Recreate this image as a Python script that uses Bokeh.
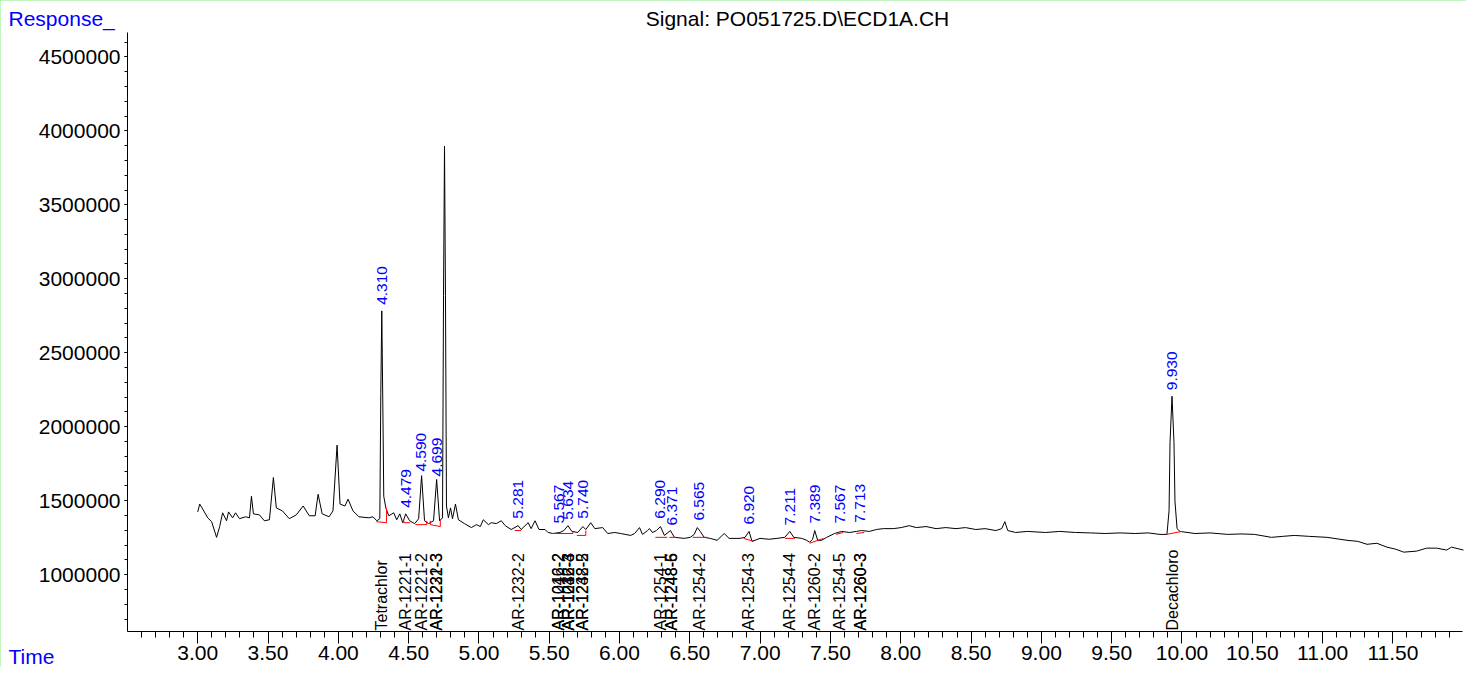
from math import pi
from bokeh.plotting import figure
from bokeh.models import Range1d, SingleIntervalTicker, NumeralTickFormatter, Label
from bokeh.core.properties import value
from bokeh.embed import file_html
from bokeh.resources import INLINE

# ---------------- data ----------------
time_min = [
    3.000, 3.014, 3.035, 3.071, 3.099, 3.134, 3.156, 3.177, 3.205, 3.219,
    3.248, 3.269, 3.297, 3.340, 3.368, 3.382, 3.396, 3.439, 3.474, 3.510,
    3.538, 3.559, 3.602, 3.651, 3.701, 3.750, 3.793, 3.835, 3.856, 3.885,
    3.934, 3.962, 3.991, 4.012, 4.047, 4.069, 4.104, 4.146, 4.217, 4.246,
    4.274, 4.295, 4.302, 4.309, 4.317, 4.323, 4.338, 4.359, 4.394, 4.415,
    4.437, 4.458, 4.479, 4.507, 4.543, 4.571, 4.592, 4.613, 4.642, 4.677,
    4.699, 4.720, 4.741, 4.748, 4.755, 4.762, 4.769, 4.783, 4.798, 4.812,
    4.833, 4.854, 4.897, 4.946, 4.982, 5.010, 5.031, 5.067, 5.088, 5.123,
    5.159, 5.187, 5.229, 5.279, 5.300, 5.350, 5.371, 5.399, 5.427, 5.470,
    5.491, 5.527, 5.576, 5.604, 5.633, 5.661, 5.703, 5.739, 5.760, 5.795,
    5.824, 5.880, 5.916, 5.965, 6.008, 6.079, 6.107, 6.142, 6.163, 6.199,
    6.213, 6.234, 6.262, 6.291, 6.319, 6.362, 6.390, 6.461, 6.503, 6.531,
    6.553, 6.574, 6.602, 6.645, 6.694, 6.744, 6.779, 6.857, 6.892, 6.921,
    6.942, 6.999, 7.062, 7.119, 7.175, 7.211, 7.239, 7.296, 7.331, 7.352,
    7.373, 7.388, 7.409, 7.437, 7.473, 7.529, 7.579, 7.635, 7.685, 7.720,
    7.777, 7.826, 7.876, 7.947, 8.003, 8.060, 8.110, 8.180, 8.251, 8.320,
    8.393, 8.460, 8.534, 8.600, 8.676, 8.718, 8.740, 8.761, 8.817, 8.900,
    9.030, 9.130, 9.242, 9.350, 9.454, 9.560, 9.667, 9.760, 9.843, 9.893,
    9.908, 9.915, 9.929, 9.943, 9.950, 9.965, 9.986, 10.092, 10.200, 10.325,
    10.420, 10.516, 10.636, 10.720, 10.799, 10.900, 11.032, 11.174, 11.250, 11.316,
    11.386, 11.457, 11.520, 11.577, 11.669, 11.740, 11.811, 11.882, 11.917, 12.002,
]
response = [
    1424000, 1477000, 1444000, 1384000, 1358000, 1252000, 1325000, 1418000, 1364000, 1424000,
    1384000, 1418000, 1378000, 1391000, 1384000, 1530000, 1411000, 1404000, 1364000, 1371000,
    1656000, 1451000, 1431000, 1378000, 1404000, 1464000, 1398000, 1398000, 1543000, 1411000,
    1391000, 1431000, 1875000, 1477000, 1464000, 1510000, 1431000, 1391000, 1384000, 1391000,
    1364000, 1378000, 2226000, 2783000, 2093000, 1530000, 1451000, 1398000, 1418000, 1371000,
    1411000, 1351000, 1411000, 1364000, 1345000, 1378000, 1669000, 1364000, 1345000, 1364000,
    1643000, 1364000, 1384000, 2889000, 3896000, 2889000, 1464000, 1384000, 1451000, 1378000,
    1477000, 1371000, 1345000, 1318000, 1338000, 1325000, 1371000, 1338000, 1351000, 1345000,
    1364000, 1331000, 1305000, 1331000, 1305000, 1351000, 1311000, 1364000, 1305000, 1305000,
    1285000, 1278000, 1285000, 1298000, 1331000, 1292000, 1285000, 1325000, 1305000, 1351000,
    1311000, 1318000, 1278000, 1285000, 1278000, 1265000, 1278000, 1318000, 1272000, 1298000,
    1311000, 1285000, 1298000, 1325000, 1265000, 1298000, 1252000, 1245000, 1252000, 1272000,
    1318000, 1292000, 1252000, 1245000, 1232000, 1278000, 1245000, 1245000, 1252000, 1292000,
    1225000, 1245000, 1239000, 1245000, 1252000, 1292000, 1252000, 1245000, 1232000, 1219000,
    1239000, 1298000, 1232000, 1232000, 1252000, 1278000, 1292000, 1285000, 1292000, 1298000,
    1292000, 1305000, 1311000, 1311000, 1318000, 1331000, 1318000, 1325000, 1311000, 1318000,
    1311000, 1318000, 1305000, 1311000, 1298000, 1311000, 1358000, 1298000, 1285000, 1292000,
    1285000, 1292000, 1285000, 1282000, 1278000, 1282000, 1278000, 1282000, 1272000, 1272000,
    1431000, 1895000, 2206000, 1895000, 1497000, 1311000, 1292000, 1278000, 1282000, 1272000,
    1275000, 1272000, 1252000, 1259000, 1265000, 1259000, 1252000, 1232000, 1225000, 1205000,
    1212000, 1186000, 1172000, 1152000, 1159000, 1179000, 1179000, 1166000, 1186000, 1166000,
]

# integrated peaks: retention time, apex response, printed label
peak_rt = [4.310, 4.479, 4.590, 4.699, 5.281, 5.567, 5.634, 5.740, 6.290,
           6.371, 6.565, 6.920, 7.211, 7.389, 7.567, 7.713, 9.930]
peak_apex = [2783000, 1411000, 1656000, 1623000, 1338000, 1305000, 1331000,
             1338000, 1338000, 1292000, 1325000, 1298000, 1292000, 1305000,
             1305000, 1311000, 2206000]
peak_labels = ["4.310", "4.479", "4.590", "4.699", "5.281", "5.567", "5.634",
               "5.740", "6.290", "6.371", "6.565", "6.920", "7.211", "7.389",
               "7.567", "7.713", "9.930"]

# compound names printed at the bottom
compound_rt = [4.310, 4.479, 4.590, 4.699, 4.699, 5.281, 5.567, 5.567, 5.634,
               5.634, 5.634, 5.740, 5.740, 6.290, 6.371, 6.371, 6.565, 6.920,
               7.211, 7.389, 7.567, 7.713, 7.713, 9.930]
compound_names = ["Tetrachlor", "AR-1221-1", "AR-1221-2", "AR-1221-3", "AR-1232-3",
                  "AR-1232-2", "AR-1016-2", "AR-1242-2", "AR-1232-4", "AR-1016-3",
                  "AR-1242-3", "AR-1232-5", "AR-1248-2", "AR-1254-1", "AR-1248-5",
                  "AR-1248-6", "AR-1254-2", "AR-1254-3", "AR-1254-4", "AR-1260-2",
                  "AR-1254-5", "AR-1260-3", "AR-1260-3", "Decachloro"]

# integration baselines (red)
base_t0 = [4.270, 4.343, 4.465, 4.465, 4.548, 4.628, 4.654, 4.654, 4.725, 5.255,
           5.520, 5.668, 5.696, 5.760, 6.255, 6.354, 6.520, 6.883, 7.176, 7.352,
           7.540, 7.685, 9.890]
base_r0 = [1358000, 1351000, 1351000, 1351000, 1338000, 1338000, 1338000, 1338000,
           1325000, 1298000, 1278000, 1278000, 1265000, 1265000, 1252000, 1252000,
           1252000, 1245000, 1245000, 1212000, 1272000, 1278000, 1272000]
base_t1 = [4.343, 4.343, 4.510, 4.465, 4.628, 4.628, 4.725, 4.654, 4.725, 5.300,
           5.668, 5.668, 5.760, 5.760, 6.340, 6.404, 6.625, 6.954, 7.246, 7.450,
           7.590, 7.740, 9.999]
base_r1 = [1351000, 1451000, 1351000, 1371000, 1338000, 1364000, 1325000, 1364000,
           1371000, 1298000, 1278000, 1292000, 1265000, 1298000, 1252000, 1252000,
           1252000, 1225000, 1245000, 1245000, 1285000, 1285000, 1292000]

title_text = "Signal: PO051725.D\\ECD1A.CH"
y_label_text = "Response_"
x_label_text = "Time"

# axis extents (data)
T_START, T_END = 2.5005, 11.995
R_START, R_END = 615600, 4664700

# ---------------- layout (pixels) ----------------
FONT = "Liberation Sans"
W, H = 1466, 667
AX_LEFT, AX_RIGHT = 127, 1462      # x pixel of the axis ends
AX_TOP, AX_BOTTOM = 32, 631        # y pixel of the axis ends

sx = (AX_RIGHT - AX_LEFT) / (T_END - T_START)      # px per minute
sy = (AX_BOTTOM - AX_TOP) / (R_END - R_START)      # px per response unit
x_lo = T_START - AX_LEFT / sx
x_hi = T_END + (W - AX_RIGHT) / sx
y_hi = R_END + AX_TOP / sy
y_lo = R_START - (H - AX_BOTTOM) / sy


def px_x(px):
    return x_lo + px / sx


def px_y(py):
    return y_hi - py / sy


p = figure(width=W, height=H, output_backend="svg", toolbar_location=None,
           x_range=Range1d(x_lo, x_hi), y_range=Range1d(y_lo, y_hi),
           min_border=0, min_border_left=0, min_border_right=0,
           min_border_top=0, min_border_bottom=0)
p.styles = {"outline": "1px solid #80ee80", "outline-offset": "-1px"}
p.outline_line_color = None
p.xgrid.visible = False
p.ygrid.visible = False
p.background_fill_color = "white"
p.border_fill_color = "white"

xa = p.xaxis[0]
xa.fixed_location = R_START
xa.bounds = (T_START, T_END)
xa.ticker = SingleIntervalTicker(interval=0.5, num_minor_ticks=5)
xa.formatter = NumeralTickFormatter(format="0.00")
xa.major_tick_in = 0
xa.major_tick_out = 12
xa.minor_tick_in = 0
xa.minor_tick_out = 6
xa.major_label_standoff = 2

ya = p.yaxis[0]
ya.fixed_location = T_START
ya.bounds = (R_START, R_END)
ya.ticker = SingleIntervalTicker(interval=500000, num_minor_ticks=5)
ya.formatter = NumeralTickFormatter(format="0")
ya.major_tick_in = 0
ya.major_tick_out = 3
ya.minor_tick_in = 0
ya.minor_tick_out = 3
ya.major_label_standoff = 4

for ax in (xa, ya):
    ax.axis_line_color = "black"
    ax.major_tick_line_color = "black"
    ax.minor_tick_line_color = "black"
    ax.major_label_text_color = "black"
    ax.major_label_text_font = FONT
    ax.major_label_text_font_size = "21px"

# trace
p.line(time_min, response, line_color="black", line_width=1)

# integration baselines
p.segment(x0=base_t0, y0=base_r0, x1=base_t1, y1=base_r1,
          line_color="#ff0000", line_width=1)

# retention time labels
p.text(x=peak_rt, y=peak_apex, text=peak_labels, angle=pi / 2,
       text_align="left", text_baseline="middle", y_offset=-6,
       text_color="#0000ff", text_font=value(FONT), text_font_size="15.5px")

# compound names
p.text(x=compound_rt, y=[R_START] * len(compound_rt), text=compound_names,
       angle=pi / 2, text_align="left", text_baseline="middle", y_offset=-1,
       text_color="black", text_font=value(FONT), text_font_size="16px")

# title and corner captions
p.add_layout(Label(x=px_x(797), y=px_y(17.5), text=title_text,
                   text_align="center", text_baseline="alphabetic",
                   text_font=FONT, text_font_size="21px", text_color="black"))
p.add_layout(Label(x=px_x(8), y=px_y(17.5), text=y_label_text,
                   text_align="left", text_baseline="alphabetic",
                   text_font=FONT, text_font_size="21px", text_color="#0000ff"))
p.add_layout(Label(x=px_x(8), y=px_y(656), text=x_label_text,
                   text_align="left", text_baseline="alphabetic",
                   text_font=FONT, text_font_size="21px", text_color="#0000ff"))

open("out.html", "w").write(file_html(p, INLINE))
